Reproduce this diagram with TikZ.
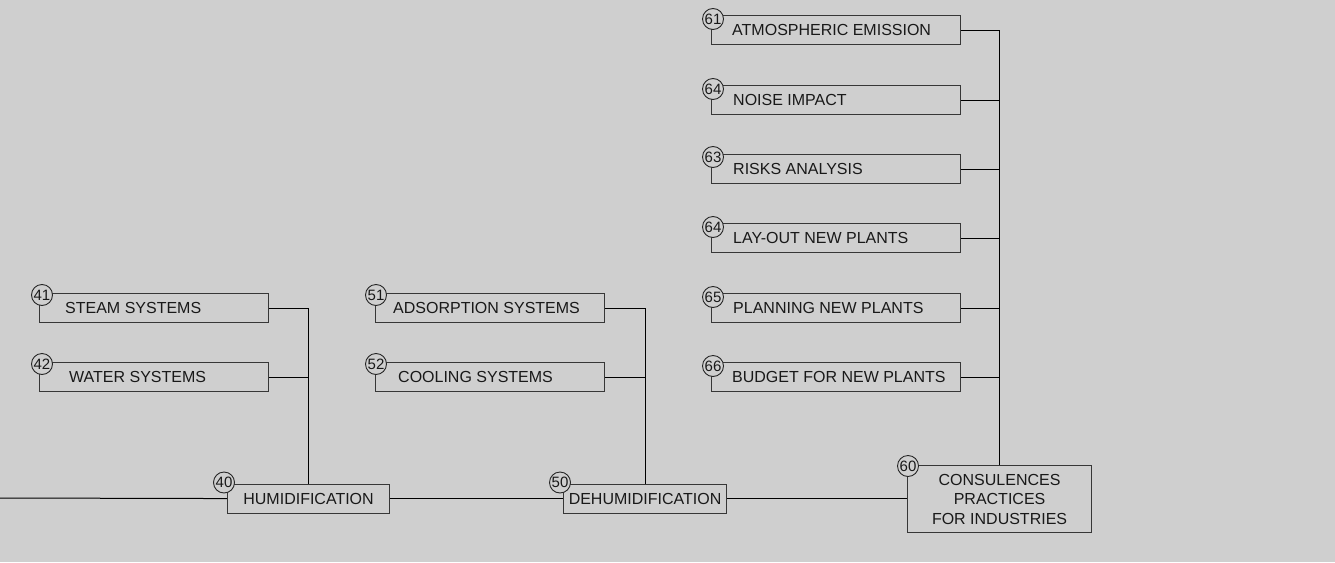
\documentclass[tikz,border=0pt]{standalone}
\usepackage{fontspec}
\setmainfont{Liberation Sans}
\definecolor{bgc}{RGB}{207,207,207}
\definecolor{boxc}{RGB}{55,55,55}
\tikzset{
	leaf/.style={draw=boxc,line width=1.1pt,minimum height=29,inner sep=0,anchor=north west},
	hub/.style={leaf,font=\fontsize{16}{19.5}\selectfont,text=black!90},
	lbl/.style={anchor=west,inner sep=0,font=\fontsize{16}{19}\selectfont,text=black!90},
	num/.style={circle,draw=black!85,fill=bgc,line width=.9pt,minimum size=21,inner sep=0,font=\fontsize{15}{15}\selectfont,text=black!90},
	wire/.style={line width=1pt,black}
}
\begin{document}
\begin{tikzpicture}[x=1pt,y=-1pt]
	\fill[bgc] (0,0) rectangle (1335,562);
	\useasboundingbox (0,0) rectangle (1335,562);
	% main chain
	\coordinate (start) at (0,498);
	\node[hub,minimum width=162] (b40) at (227,483.5) {HUMIDIFICATION};
	\node[hub,minimum width=163] (b50) at (563,483.5) {DEHUMIDIFICATION};
	\node[hub,minimum width=184,minimum height=67,align=center] (b60) at (907,465) {CONSULENCES\\PRACTICES\\FOR INDUSTRIES};
	% humidification
	\node[leaf,minimum width=229] (b41) at (39,293) {};
	\node[lbl] (t41) at ([xshift=26]b41.west) {STEAM SYSTEMS};
	\node[leaf,minimum width=229] (b42) at (39,362) {};
	\node[lbl] (t42) at ([xshift=30]b42.west) {WATER SYSTEMS};
	% dehumidification
	\node[leaf,minimum width=229] (b51) at (375,293) {};
	\node[lbl] (t51) at ([xshift=18]b51.west) {ADSORPTION SYSTEMS};
	\node[leaf,minimum width=229] (b52) at (375,362) {};
	\node[lbl] (t52) at ([xshift=23]b52.west) {COOLING SYSTEMS};
	% consulences
	\node[leaf,minimum width=249] (b61) at (711,15) {};
	\node[lbl] (t61) at ([xshift=21]b61.west) {ATMOSPHERIC EMISSION};
	\node[leaf,minimum width=249] (b62) at (711,85) {};
	\node[lbl] (t62) at ([xshift=22]b62.west) {NOISE IMPACT};
	\node[leaf,minimum width=249] (b63) at (711,154) {};
	\node[lbl] (t63) at ([xshift=22]b63.west) {RISKS ANALYSIS};
	\node[leaf,minimum width=249] (b64) at (711,223) {};
	\node[lbl] (t64) at ([xshift=22]b64.west) {LAY-OUT NEW PLANTS};
	\node[leaf,minimum width=249] (b65) at (711,293) {};
	\node[lbl] (t65) at ([xshift=22]b65.west) {PLANNING NEW PLANTS};
	\node[leaf,minimum width=249] (b66) at (711,362) {};
	\node[lbl] (t66) at ([xshift=21]b66.west) {BUDGET FOR NEW PLANTS};
	% numbers
	\node[num] (n40) at ([shift={(-3,-1)}]b40.north west) {40};
	\node[num] (n50) at ([shift={(-3,-1)}]b50.north west) {50};
	\node[num] (n60) at ([shift={(1,1)}]b60.north west) {60};
	\node[num] (n41) at ([shift={(3,2)}]b41.north west) {41};
	\node[num] (n42) at ([shift={(3,2)}]b42.north west) {42};
	\node[num] (n51) at ([shift={(1,2)}]b51.north west) {51};
	\node[num] (n52) at ([shift={(1,2)}]b52.north west) {52};
	\node[num] (n61) at ([shift={(2,4)}]b61.north west) {61};
	\node[num] (n62) at ([shift={(2,4)}]b62.north west) {64};
	\node[num] (n63) at ([shift={(2,3)}]b63.north west) {63};
	\node[num] (n64) at ([shift={(2,4)}]b64.north west) {64};
	\node[num] (n65) at ([shift={(2,4)}]b65.north west) {65};
	\node[num] (n66) at ([shift={(2,4)}]b66.north west) {66};
	% wires
	\draw[wire] (start) -- (b40.west);
	\draw[wire] (b40.east) -- (b50.west);
	\draw[wire] (b50.east) -- (b50.east -| b60.west);
	\draw[wire] (b40.north) |- (b41.east);
	\draw[wire] (b42.east) -- (b42.east -| b40.north);
	\draw[wire] (b50.north) |- (b51.east);
	\draw[wire] (b52.east) -- (b52.east -| b50.north);
	\draw[wire] (b60.north) |- (b61.east);
	\foreach \b in {b62,b63,b64,b65,b66}
		\draw[wire] (\b.east) -- (\b.east -| b60.north);
\end{tikzpicture}
\end{document}
